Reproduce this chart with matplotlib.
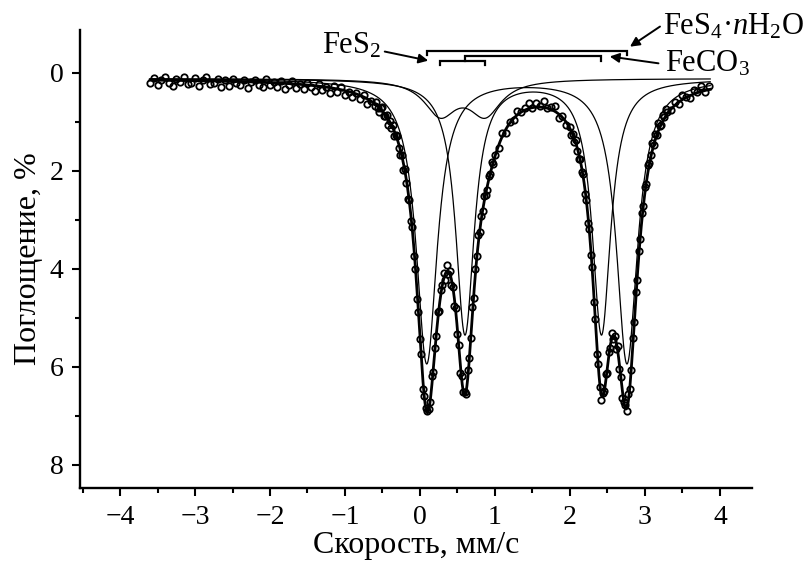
import numpy as np
import matplotlib.pyplot as plt

plt.rcParams['font.family'] = ['Liberation Serif', 'DejaVu Serif']
plt.rcParams['mathtext.fontset'] = 'custom'
plt.rcParams['mathtext.rm'] = 'Liberation Serif'
plt.rcParams['mathtext.it'] = 'Liberation Serif:italic'

block_start = [-3.60, -0.60, 1.05, 2.00, 3.35]   # mm/s
block_step = [0.05, 0.02, 0.05, 0.02, 0.05]
absorb_wing_left = [.22, .11, .26, .15, .09, .22, .28, .13, .19, .09,
                    .24, .21, .11, .27, .16, .09, .24, .21, .13, .29,
                    .16, .27, .12, .21, .26, .16, .31, .19, .14, .26,
                    .30, .13, .25, .19, .29, .18, .33, .25, .17, .31,
                    .23, .34, .22, .30, .37, .23, .35, .30, .42, .28,
                    .39, .29, .45, .40, .50, .41, .53, .46, .64, .58]
absorb_pair_left = [.69, .60, .73, .81, .72, .70, .89, .89, .86, 1.06,
                    .99, 1.13, 1.07, 1.29, 1.28, 1.29, 1.53, 1.68, 1.68, 1.98,
                    1.97, 2.26, 2.57, 2.59, 3.03, 3.15, 3.74, 4.00, 4.62, 4.89,
                    5.43, 5.74, 6.46, 6.59, 6.85, 6.91, 6.87, 6.72, 6.19, 6.11,
                    5.61, 5.38, 4.89, 4.86, 4.44, 4.34, 4.09, 4.22, 3.92, 4.11,
                    4.04, 4.33, 4.37, 4.77, 4.81, 5.33, 5.56, 6.12, 6.18, 6.52,
                    6.52, 6.56, 6.06, 5.83, 5.42, 4.79, 4.59, 4.01, 3.75, 3.32,
                    3.26, 2.92, 2.83, 2.51, 2.49, 2.39, 2.10, 2.06, 1.82, 1.86,
                    1.67]
absorb_middle = [1.54, 1.24, 1.23, 1.00, .97, .79, .80, .73, .62, .73,
                 .61, .68, .57, .72, .71, .68, .92, .89, 1.06]
absorb_pair_right = [1.10, 1.28, 1.26, 1.42, 1.37, 1.60, 1.77, 1.76, 2.02, 2.07,
                     2.47, 2.60, 3.06, 3.19, 3.71, 3.97, 4.68, 5.03, 5.74, 5.94,
                     6.42, 6.67, 6.53, 6.50, 6.14, 6.12, 5.70, 5.62, 5.32, 5.43,
                     5.38, 5.64, 5.58, 6.04, 6.20, 6.63, 6.71, 6.77, 6.90, 6.55,
                     6.45, 6.07, 5.41, 5.08, 4.48, 4.23, 3.64, 3.39, 2.87, 2.72,
                     2.33, 2.27, 1.88, 1.85, 1.68, 1.44, 1.48, 1.26, 1.27, 1.03,
                     1.08, 1.06, .87, .91, .75, .80]
absorb_wing_right = [.76, .59, .64, .45, .50, .51, .35, .39, .28, .39, .28]
blocks = [absorb_wing_left, absorb_pair_left, absorb_middle,
          absorb_pair_right, absorb_wing_right]

# fitted subspectra: line positions (mm/s), depth (%), half width (mm/s)
baseline = 0.12
phase_names = [r'FeS$_4$·$n$H$_2$O', r'FeCO$_3$', r'FeS$_2$']
line_pos = [[0.09, 2.76], [0.60, 2.42], [0.27, 0.87]]
line_depth = [5.8, 5.2, 0.70]
line_hwhm = [0.17, 0.15, 0.26]

# stick diagrams above the spectrum (top to bottom)
stick_level = [-0.45, -0.34, -0.24]
stick_drop = [0.09, 0.10, 0.08]

velocity = np.concatenate([s + d * np.arange(len(b))
                           for s, d, b in zip(block_start, block_step, blocks)])
absorption = np.concatenate(blocks)


def lorentz(x, pos, depth, hwhm):
    return depth / (1 + ((x - pos) / hwhm) ** 2)


fig = plt.figure(figsize=(8.06, 5.65), dpi=100)
ax = fig.add_axes([0.0993, 0.136, 0.8337, 0.811])

xf = np.linspace(-3.6, 3.87, 2000)
total = np.full_like(xf, baseline)
for pos, dep, w in zip(line_pos, line_depth, line_hwhm):
    comp = sum(lorentz(xf, p, dep, w) for p in pos)
    ax.plot(xf, baseline + comp, color='black', lw=0.9, zorder=2)
    total += comp

ax.plot(velocity, absorption, 'o', ms=4.6, mfc='none', mec='black', mew=1.3, zorder=3)
ax.plot(xf, total, color='black', lw=2.0, zorder=4)

# stick diagrams
for pos, lev, drop in zip(line_pos, stick_level, stick_drop):
    x1, x2 = pos[0], pos[1]
    ax.plot([x1, x1, x2, x2], [lev + drop, lev, lev, lev + drop], color='black',
            lw=1.6, solid_joinstyle='miter', clip_on=False)

fs_ann = 22
arrow = dict(arrowstyle='-|>', color='black', lw=1.4, mutation_scale=14, shrinkA=0, shrinkB=0)
ax.text(-1.31, -0.40, phase_names[2], ha='left', va='baseline', fontsize=fs_ann)
ax.annotate('', xy=(0.11, -0.245), xytext=(-0.47, -0.43), arrowprops=arrow, annotation_clip=False)
ax.text(3.24, -0.77, phase_names[0], ha='left', va='baseline', fontsize=fs_ann)
ax.annotate('', xy=(2.80, -0.53), xytext=(3.20, -0.94), arrowprops=arrow, annotation_clip=False)
ax.text(3.27, -0.02, phase_names[1], ha='left', va='baseline', fontsize=fs_ann)
ax.annotate('', xy=(2.53, -0.33), xytext=(3.18, -0.19), arrowprops=arrow, annotation_clip=False)

ax.set_xlim(-4.533, 4.427)
ax.set_ylim(8.476, -0.871)
ax.set_xticks(np.arange(-4, 5, 1))
ax.set_xticks(np.arange(-4.5, 4.5, 1), minor=True)
ax.set_yticks([0, 2, 4, 6, 8])
ax.set_yticks([1, 3, 5, 7], minor=True)
ax.spines['top'].set_visible(False)
ax.spines['right'].set_visible(False)
for s in ('left', 'bottom'):
    ax.spines[s].set_linewidth(1.7)
ax.tick_params(which='major', direction='out', length=6, width=1.5, labelsize=20, pad=6)
ax.tick_params(which='minor', direction='out', length=3.5, width=1.5)
ax.set_xlabel('Скорость, мм/с', fontsize=23, labelpad=1)
ax.set_ylabel('Поглощение, %', fontsize=23, labelpad=5)

fig.savefig('out.png', dpi=100)
